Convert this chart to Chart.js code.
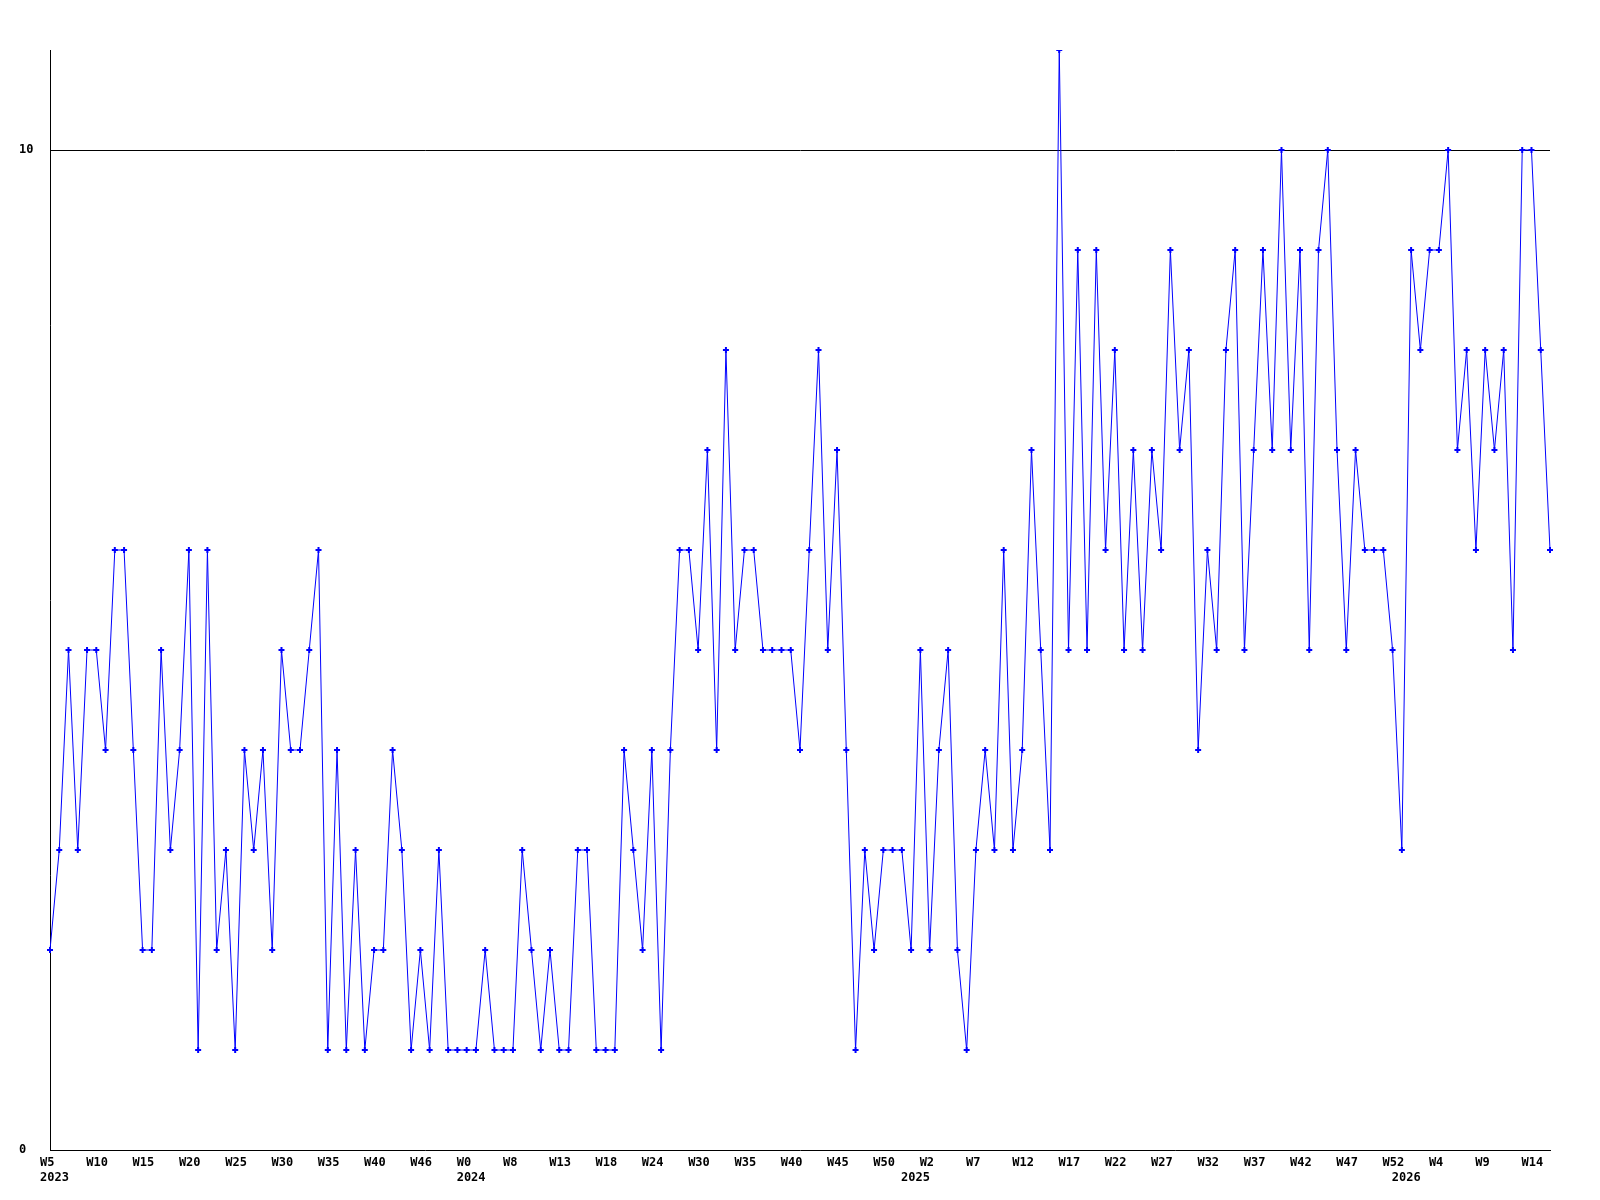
<!DOCTYPE html>
<html>
<head>
<meta charset="utf-8">
<title>Weekly count</title>
<script src="https://cdn.jsdelivr.net/npm/chart.js@4/dist/chart.umd.min.js"></script>
<style>
  html, body { margin: 0; padding: 0; background: #fff; }
  #wrap { width: 1600px; height: 1200px; }
</style>
</head>
<body>
<div id="wrap"><canvas id="weeklyChart" width="1600" height="1200"></canvas></div>
<script>
// one value per week, 2023 W5 .. 2026 W15
const counts2023 = [2,3,5,3,5,5,4,6,6,4,2,2,5,3,4,6,1,6,2,3,1,4,3,4,2,5,4,4,5,6,1,4,
                    1,3,1,2,2,4,3,1,2,1,3,1,1];
const counts2024 = [1,1,2,1,1,1,3,2,1,2,1,1,3,3,1,1,1,
                    4,3,2,4,1,4,6,6,5,7,4,8,5,6,6,5,5,5,5,4,6,8,5,7,4,1,3,2,3,3,3];
const counts2025 = [2,5,2,4,5,2,1,3,4,3,6,3,4,7,5,3,11,5,9,5,9,6,8,
                    5,7,5,7,6,9,7,8,4,6,5,8,9,5,7,9,7,10,7,9,5,9,10,7,
                    5,7,6,6,6,5];
const counts2026 = [3,9,8,9,9,10,7,8,6,8,7,8,5,10,10,8,6];
const counts = counts2023.concat(counts2024, counts2025, counts2026);

// x tick labels, one every 5th week
const weekTicks = ['W5','W10','W15','W20','W25','W30','W35','W40','W46','W0','W8',
                   'W13','W18','W24','W30','W35','W40','W45','W50','W2','W7','W12',
                   'W17','W22','W27','W32','W37','W42','W47','W52','W4','W9','W14'];
const tickStep = 5;

// year labels, placed at the first week of each year
const yearNames = ['2023', '2024', '2025', '2026'];
const yearStarts = [0, counts2023.length,
                    counts2023.length + counts2024.length,
                    counts2023.length + counts2024.length + counts2025.length];

const yTickValues = [0, 10];
const yMax = 11;

const weekLabels = counts.map((c, i) => {
    if (i % tickStep !== 0) return '';
    return weekTicks[i / tickStep] || '';
});
const yearLabels = counts.map((c, i) => {
    const k = yearStarts.indexOf(i);
    return k >= 0 ? yearNames[k] : '';
});

const tickFont = { family: 'DejaVu Sans Mono', size: 12, weight: 'bold', lineHeight: 1.25 };

new Chart(document.getElementById('weeklyChart'), {
    type: 'line',
    data: {
        labels: weekLabels,
        datasets: [{
            data: counts,
            borderColor: '#0000ff',
            borderWidth: 1,
            tension: 0,
            fill: false,
            pointStyle: 'cross',
            pointRadius: 3,
            pointBorderWidth: 2,
            pointBorderColor: '#0000ff',
            pointBackgroundColor: '#0000ff'
        }]
    },
    options: {
        responsive: false,
        animation: false,
        devicePixelRatio: 1,
        layout: {
            padding: { top: 50, right: 50, bottom: 0, left: 19 }
        },
        plugins: {
            legend: { display: false },
            tooltip: { enabled: false }
        },
        scales: {
            x: {
                type: 'category',
                offset: false,
                weight: 0,
                grid: { display: false, drawTicks: false },
                border: { display: true, color: '#000', width: 1 },
                ticks: {
                    autoSkip: false,
                    maxRotation: 0,
                    minRotation: 0,
                    align: 'start',
                    labelOffset: -10,
                    padding: 5,
                    color: '#000',
                    font: tickFont
                },
                afterFit: function (scale) { scale.height = 20; }
            },
            xYear: {
                type: 'category',
                position: 'bottom',
                labels: yearLabels,
                offset: false,
                weight: 1,
                grid: { display: false, drawTicks: false },
                border: { display: false },
                ticks: {
                    autoSkip: false,
                    maxRotation: 0,
                    minRotation: 0,
                    align: 'start',
                    labelOffset: -10,
                    padding: 0,
                    color: '#000',
                    font: tickFont
                },
                afterFit: function (scale) { scale.height = 30; }
            },
            y: {
                min: 0,
                max: yMax,
                grid: {
                    drawTicks: false,
                    color: (c) => c.tick && c.tick.value === 10 ? '#000' : 'rgba(0,0,0,0)',
                    lineWidth: 1
                },
                border: { display: true, color: '#000', width: 1 },
                afterBuildTicks: function (scale) {
                    scale.ticks = yTickValues.map(v => ({ value: v }));
                },
                ticks: {
                    crossAlign: 'far',
                    padding: 0,
                    color: '#000',
                    font: tickFont
                },
                afterFit: function (scale) { scale.width = 31; }
            }
        }
    }
});
</script>
</body>
</html>
